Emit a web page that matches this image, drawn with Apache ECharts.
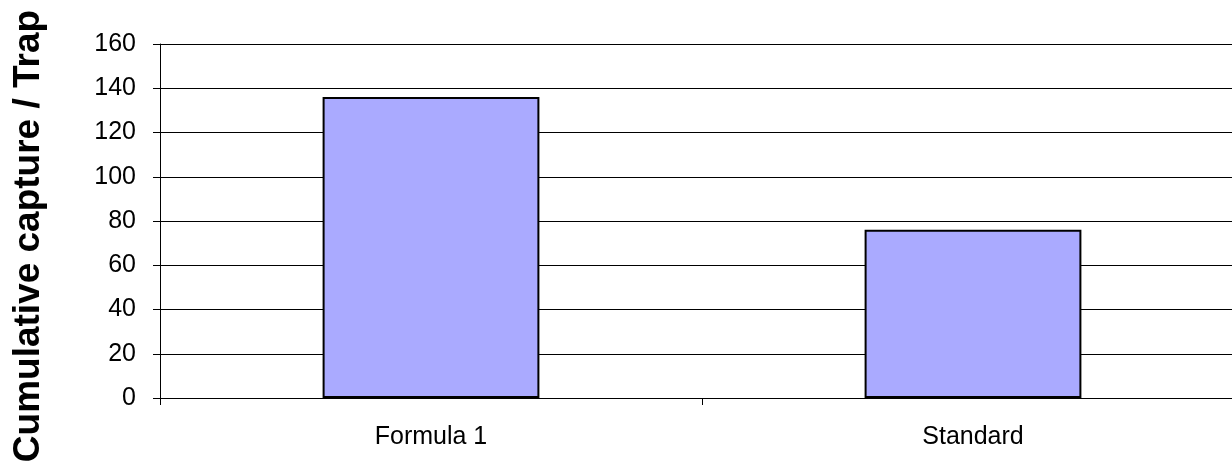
<!DOCTYPE html>
<html>
<head>
<meta charset="utf-8">
<script src="https://cdn.jsdelivr.net/npm/echarts@6/dist/echarts.min.js"></script>
<style>
html,body{margin:0;padding:0;background:#fff;overflow:hidden;}
#chart{width:1244px;height:465px;}
</style>
</head>
<body>
<div id="chart"></div>
<script>
const categories = ["Formula 1", "Standard"];
const captureValues = [136, 76];
const yTicks = { min: 0, max: 160, interval: 20 };
const yTitle = "Cumulative capture / Trap";

const chart = echarts.init(document.getElementById('chart'), null, { renderer: 'canvas' });
chart.setOption({
  animation: false,
  backgroundColor: '#ffffff',
  grid: { left: 160, top: 44, right: 0, bottom: 67, containLabel: false },
  graphic: [{
    type: 'text',
    x: 29, y: 236,
    rotation: Math.PI / 2,
    style: {
      text: yTitle,
      fill: '#000',
      font: 'bold 37px "Liberation Sans", Arial, sans-serif',
      textAlign: 'center',
      textVerticalAlign: 'middle'
    }
  }],
  xAxis: {
    type: 'category',
    data: categories,
    boundaryGap: true,
    axisLine: { show: true, lineStyle: { color: '#000', width: 1 } },
    axisTick: { show: true, length: 7, lineStyle: { color: '#000' } },
    axisLabel: { color: '#000', fontFamily: 'Liberation Sans', fontSize: 25, margin: 27 },
    splitLine: { show: false }
  },
  yAxis: {
    type: 'value',
    min: yTicks.min, max: yTicks.max, interval: yTicks.interval,
    axisLine: { show: true, lineStyle: { color: '#000', width: 1 } },
    axisTick: { show: true, inside: false, length: 7, lineStyle: { color: '#000' } },
    axisLabel: { color: '#000', fontFamily: 'Liberation Sans', fontSize: 25, margin: 24 },
    splitLine: { show: true, lineStyle: { color: '#000', width: 1 } }
  },
  series: [{
    type: 'bar',
    data: captureValues,
    barWidth: '40%',
    itemStyle: { color: '#AAAAFF', borderColor: '#000', borderWidth: 2 }
  }]
});
</script>
</body>
</html>
